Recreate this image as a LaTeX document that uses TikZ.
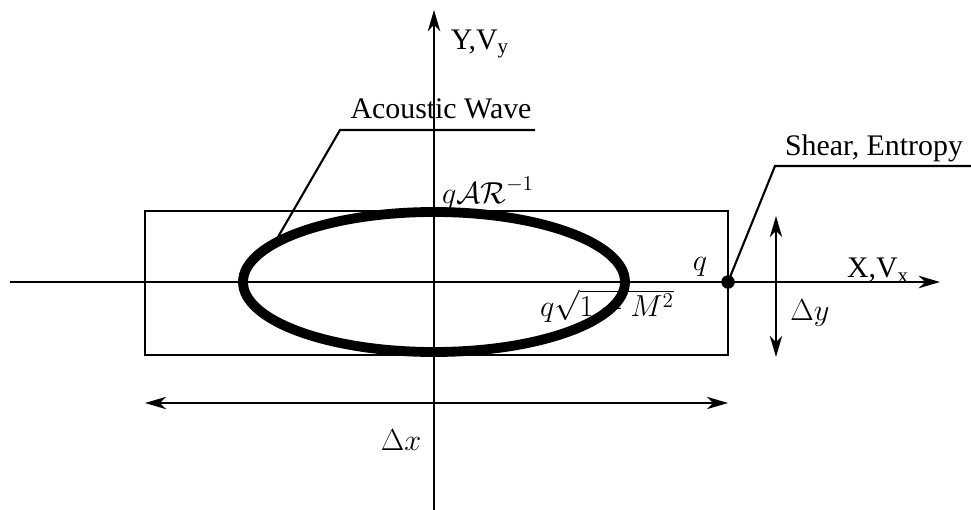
\documentclass[tikz,border=0pt]{standalone}
\usepackage{fontspec}
\setmainfont{Liberation Serif}
\usetikzlibrary{arrows.meta}
\tikzset{
  axis line/.style={line width=1.4pt,-{Stealth[length=12pt,width=7pt,inset=3.5pt]}},
  span line/.style={line width=1.2pt,
                    {Stealth[length=12pt,width=7pt,inset=3.5pt]}-{Stealth[length=12pt,width=7pt,inset=3.5pt]}},
  cell box/.style={line width=1.1pt},
  leader/.style={line width=1.2pt},
  wave/.style={line width=5.6pt},
  tag/.style={font=\fontsize{17}{20}\selectfont,inner sep=1pt},
}

\begin{document}
\begin{tikzpicture}[x=0.02cm,y=-0.02cm]
  \useasboundingbox (0,0) rectangle (971,510);
  % axes
  \coordinate (o)  at (434,282);
  \coordinate (yb) at (434,510);
  \coordinate (yt) at (434,10);
  \coordinate (xl) at (10,282);
  \coordinate (xr) at (940,282);
  % labels
  \node[tag] (ylab)  at (480,44)  {Y,V$_{\mathrm{y}}$};
  \node[tag] (xlab)  at (878,270) {X,V$_{\mathrm{x}}$};
  \node[tag] (qtop)  at (488,193) {$q\mathcal{AR}^{-1}$};
  \node[tag] (qside) at (607,306) {$q\sqrt{1-M^2}$};
  \node[tag] (qsrc)  at (700,267) {$q$};
  \node[tag] (dx)    at (401,440) {$\Delta x$};
  \node[tag] (dy)    at (810,313) {$\Delta y$};
  % cell and wave
  \draw[cell box] (145,211) rectangle (728,355);
  \draw[axis line] (yb) -- (yt);
  \draw[axis line] (xl) -- (xr);
  \draw[wave] (o) ellipse [x radius=191, y radius=70];
  \node[circle,fill,inner sep=0pt,minimum size=0.27cm] (src) at (728,282) {};
  % extents
  \coordinate (dxl) at (145,403);
  \coordinate (dxr) at (728,403);
  \coordinate (dyt) at (776,216);
  \coordinate (dyb) at (776,357);
  \draw[span line] (dxl) -- (dxr);
  \draw[span line] (dyt) -- (dyb);
  % callouts
  \coordinate (aw)  at (278,237);
  \coordinate (awk) at (340,130);
  \coordinate (awe) at (535,130);
  \draw[leader] (aw) -- (awk) -- (awe);
  \node[tag,anchor=base] (awlab) at (441,119) {Acoustic Wave};
  \coordinate (sek) at (775,166);
  \coordinate (see) at (971,166);
  \draw[leader] (src.center) -- (sek) -- (see);
  \node[tag,anchor=base] (selab) at (874,155) {Shear, Entropy};
\end{tikzpicture}
\end{document}
